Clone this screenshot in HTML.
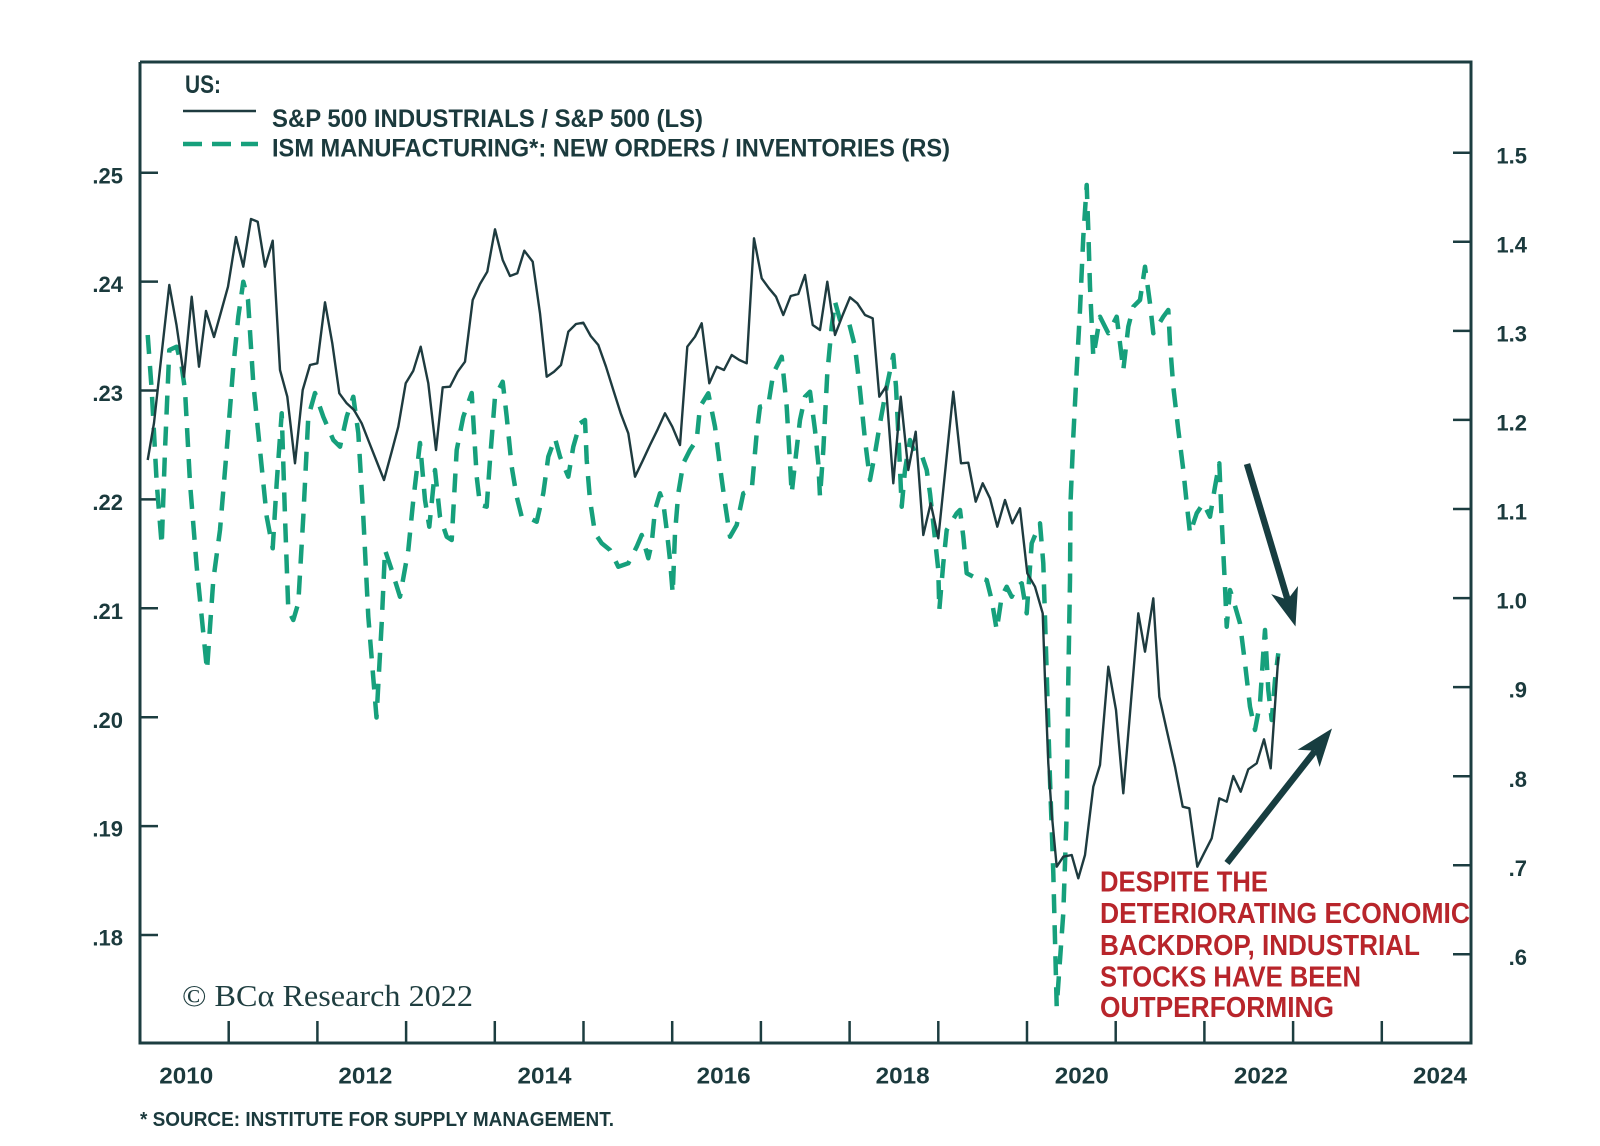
<!DOCTYPE html>
<html>
<head>
<meta charset="utf-8">
<style>
  html,body{margin:0;padding:0;background:#ffffff;}
  svg{display:block;}
  .ax{font-family:"Liberation Sans",sans-serif;font-weight:700;fill:#1b3a3d;}
</style>
</head>
<body>
<svg width="1600" height="1146" viewBox="0 0 1600 1146" xmlns="http://www.w3.org/2000/svg">
  <rect x="0" y="0" width="1600" height="1146" fill="#ffffff"/>

  <!-- frame -->
  <g stroke="#1c3d40" stroke-width="3" fill="none">
    <polyline points="140,62 1471,62 1471,1043 140,1043 140,62"/>
  </g>

  <!-- left ticks -->
  <g stroke="#1c3d40" stroke-width="2.5">
    <line x1="140" y1="172.7" x2="158" y2="172.7"/>
    <line x1="140" y1="281.6" x2="158" y2="281.6"/>
    <line x1="140" y1="390.5" x2="158" y2="390.5"/>
    <line x1="140" y1="499.4" x2="158" y2="499.4"/>
    <line x1="140" y1="608.3" x2="158" y2="608.3"/>
    <line x1="140" y1="717.2" x2="158" y2="717.2"/>
    <line x1="140" y1="826.1" x2="158" y2="826.1"/>
    <line x1="140" y1="935" x2="158" y2="935"/>
  </g>
  <!-- right ticks -->
  <g stroke="#1c3d40" stroke-width="2.5">
    <line x1="1453" y1="152.7" x2="1471" y2="152.7"/>
    <line x1="1453" y1="241.8" x2="1471" y2="241.8"/>
    <line x1="1453" y1="330.9" x2="1471" y2="330.9"/>
    <line x1="1453" y1="419.9" x2="1471" y2="419.9"/>
    <line x1="1453" y1="509" x2="1471" y2="509"/>
    <line x1="1453" y1="598.1" x2="1471" y2="598.1"/>
    <line x1="1453" y1="687.1" x2="1471" y2="687.1"/>
    <line x1="1453" y1="776.2" x2="1471" y2="776.2"/>
    <line x1="1453" y1="865.3" x2="1471" y2="865.3"/>
    <line x1="1453" y1="954.3" x2="1471" y2="954.3"/>
  </g>
  <!-- bottom ticks -->
  <g stroke="#1c3d40" stroke-width="2.5">
    <line x1="228.7" y1="1043" x2="228.7" y2="1021"/>
    <line x1="317.4" y1="1043" x2="317.4" y2="1021"/>
    <line x1="406.1" y1="1043" x2="406.1" y2="1021"/>
    <line x1="494.8" y1="1043" x2="494.8" y2="1021"/>
    <line x1="583.5" y1="1043" x2="583.5" y2="1021"/>
    <line x1="672.2" y1="1043" x2="672.2" y2="1021"/>
    <line x1="760.9" y1="1043" x2="760.9" y2="1021"/>
    <line x1="849.6" y1="1043" x2="849.6" y2="1021"/>
    <line x1="938.3" y1="1043" x2="938.3" y2="1021"/>
    <line x1="1027" y1="1043" x2="1027" y2="1021"/>
    <line x1="1115.7" y1="1043" x2="1115.7" y2="1021"/>
    <line x1="1204.4" y1="1043" x2="1204.4" y2="1021"/>
    <line x1="1293.1" y1="1043" x2="1293.1" y2="1021"/>
    <line x1="1381.8" y1="1043" x2="1381.8" y2="1021"/>
  </g>

  <!-- left labels -->
  <g class="ax" font-size="22" text-anchor="end">
    <text x="123" y="183.3">.25</text>
    <text x="123" y="292.2">.24</text>
    <text x="123" y="401.1">.23</text>
    <text x="123" y="510">.22</text>
    <text x="123" y="618.9">.21</text>
    <text x="123" y="727.8">.20</text>
    <text x="123" y="836.7">.19</text>
    <text x="123" y="945.6">.18</text>
  </g>
  <!-- right labels -->
  <g class="ax" font-size="22" text-anchor="end">
    <text x="1527" y="163.3">1.5</text>
    <text x="1527" y="252.4">1.4</text>
    <text x="1527" y="341.5">1.3</text>
    <text x="1527" y="430.5">1.2</text>
    <text x="1527" y="519.6">1.1</text>
    <text x="1527" y="608.7">1.0</text>
    <text x="1527" y="697.7">.9</text>
    <text x="1527" y="786.8">.8</text>
    <text x="1527" y="875.9">.7</text>
    <text x="1527" y="964.9">.6</text>
  </g>
  <!-- year labels -->
  <g class="ax" font-size="23" text-anchor="middle">
    <text x="186.3" y="1083.5" textLength="54" lengthAdjust="spacingAndGlyphs">2010</text>
    <text x="365.4" y="1083.5" textLength="54" lengthAdjust="spacingAndGlyphs">2012</text>
    <text x="544.5" y="1083.5" textLength="54" lengthAdjust="spacingAndGlyphs">2014</text>
    <text x="723.6" y="1083.5" textLength="54" lengthAdjust="spacingAndGlyphs">2016</text>
    <text x="902.7" y="1083.5" textLength="54" lengthAdjust="spacingAndGlyphs">2018</text>
    <text x="1081.8" y="1083.5" textLength="54" lengthAdjust="spacingAndGlyphs">2020</text>
    <text x="1260.9" y="1083.5" textLength="54" lengthAdjust="spacingAndGlyphs">2022</text>
    <text x="1440" y="1083.5" textLength="54" lengthAdjust="spacingAndGlyphs">2024</text>
  </g>

  <!-- footnote -->
  <text class="ax" x="140" y="1126" font-size="20" textLength="474" lengthAdjust="spacingAndGlyphs">* SOURCE: INSTITUTE FOR SUPPLY MANAGEMENT.</text>

  <!-- legend -->
  <text class="ax" x="185" y="93" font-size="25" textLength="36" lengthAdjust="spacingAndGlyphs">US:</text>
  <line x1="183" y1="111" x2="256" y2="111" stroke="#1e3b3f" stroke-width="2.5"/>
  <text class="ax" x="272" y="127" font-size="25" textLength="431" lengthAdjust="spacingAndGlyphs">S&amp;P 500 INDUSTRIALS / S&amp;P 500 (LS)</text>
  <line x1="183" y1="144" x2="258" y2="144" stroke="#16a07c" stroke-width="4.5" stroke-dasharray="19 10"/>
  <text class="ax" x="272" y="156.5" font-size="25" textLength="678" lengthAdjust="spacingAndGlyphs">ISM MANUFACTURING*: NEW ORDERS / INVENTORIES (RS)</text>

  <!-- copyright -->
  <text x="182" y="1006" font-family="Liberation Serif, serif" font-size="31" fill="#1f3e40" textLength="291" lengthAdjust="spacingAndGlyphs">© BCα Research 2022</text>

  <!-- ISM dashed series -->
  <polyline fill="none" stroke="#16a07c" stroke-width="4.5" stroke-dasharray="19 12" stroke-linejoin="round"
    points="147.7,335 151.7,390 156.7,483 161.7,545 165,450 169.3,350 176.7,346.7 181.7,366.7 185,390 190,483 196.7,566.7 203,630 207,670 213.3,580 220,530 226.7,450 233.3,366.7 238.3,316.7 243.3,281.7 248,300 253.3,383.3 260,450 266.7,516.7 272.7,548.3 276.7,483 281.7,413.3 285,516.7 288.3,610 293.3,620 298.3,603 303.3,516.7 308.3,416.7 315,393 323.3,416.7 333.3,440 340,446.7 346.7,416.7 353.3,396.7 358.3,433 363.3,516.7 368.3,616.7 376.5,717.5 381.7,623 385,550 391.7,570 400,596.7 408.3,550 413.3,500 420,443 425,500 429.3,526.7 435,470 440,516.7 446.7,536.7 451.7,540 456.7,450 463.3,416.7 471.7,393 476.7,476.7 480,505 486.7,506.7 490,460 495,396.7 502.7,381.7 506.7,416.7 511.7,466.7 516.7,496.7 521.7,516.7 526.7,516.7 536.7,521.7 543.3,493.3 548.3,456.7 555,438.3 560,456.7 568.3,476.7 573.3,446.7 580,423.3 585,420 586.7,460 590,500 595,533.3 601.7,543.3 610,550 618.3,566.7 628.3,563.3 636.7,546.7 641.7,535 648.3,558.3 651.7,543.3 655,510 660,493.3 663.3,503 666.7,530 670,560 672.7,593.3 675,533.3 678.3,493.3 683.3,463.3 690,450 696.7,440 700,406.7 708.3,393.3 715,426.7 720,466.7 725,503.3 730,536.7 736.7,525 743.3,493.3 751.7,490 756.7,433.3 760,406.7 768.3,405 773.3,373.3 781.7,356.7 786.7,406.7 790,463.3 791.7,493.3 795,463.3 800,420 805,396.7 810,391.7 815,430 818.3,463.3 820,496.7 823.3,450 827.3,373.3 831.7,326.7 835,301.7 840,320 848.3,320 855,346.7 860,390 865,440 870,480 875,453.3 880,423.3 886.7,386.7 893.3,355 896,386.7 899.3,453.3 901.7,506.7 905,470 910,440 915,453.3 921.7,455 926.7,470 930,493.3 933.3,523.3 938.3,570 939.3,610 943.3,563.3 946.7,530 956.7,513.3 960,510 963.3,536.7 966.7,573.3 973.3,576.7 986.7,580 991.7,600 996.7,630 1001.7,596.7 1006.7,586.7 1011.7,596.7 1016.7,586.7 1021.7,583.3 1026.7,613.3 1031.7,543.3 1040,523.3 1043.3,563.3 1046,650 1050,780 1053.3,873 1056.7,1006.7 1060,960 1063.3,913 1066.7,813 1068.3,680 1070,580 1070.5,503 1073.3,436.7 1076.7,370 1080,310 1083.3,236.7 1086.7,185 1088.3,230 1090,286.7 1093.3,356.7 1096.7,336.7 1100,316.7 1108.3,333.3 1116.7,316.7 1123.3,370 1128.3,326.7 1133.3,306.7 1140,300 1145,266.7 1150,303.3 1153.3,333.3 1163.3,316.7 1168.3,310 1170,343.3 1173.3,386.7 1178.3,430 1183.3,470 1186.7,503.3 1190,533.3 1196.7,513.3 1203.3,503.3 1210,516.7 1215,486.7 1219.3,463.3 1221.7,520 1225,586.7 1226.7,626.7 1230,590 1233.3,600 1240,623.3 1245,663.3 1250,706.7 1255,730 1260,703.3 1263.3,653.3 1265,630 1268.3,690 1271.7,720 1275,680 1278.3,653.3"/>

  <!-- S&P solid series -->
  <polyline fill="none" stroke="#1e3b3f" stroke-width="2.4" stroke-linejoin="round"
    points="147.7,460 154,423 161.5,355 169.3,285 176.5,325 184,376.7 191.7,296.7 199,366.7 206,311 214,337 221,312 228,286.7 236,237 243.3,266.7 251,219 257.7,221.7 265,266.7 272.7,240.7 280,370 287.3,396.7 295,463.3 302.7,390 310,365 317.3,363.3 325,302.3 332.3,343.3 339.3,393.3 346.7,403.3 354,410 361.7,423.3 369,442 376.5,461 384,480 391.7,451.7 398.3,426.7 405.7,383.3 413.3,370.7 420.7,346.7 428.3,383.3 436,450 442.7,387.3 450,386.7 457.7,371.7 465,361.7 472.7,300 480,284 487.3,271.7 495,229.3 502.7,260 510,276 517.3,273.3 524.3,250.7 532.7,261.7 540,313.3 546.7,376.7 554,371.7 561,365 568.3,331.7 576,324 583.3,322.7 590.7,336 598.3,345 606,366.7 613.3,390 620.7,413.3 628.3,433.3 635,476.7 642.7,460.7 650,445 657.7,429.3 665,413.3 672.3,426.7 680,445 687.3,346.7 695,336.7 701.7,323.3 709.3,383.3 716.7,366.7 724,370 731.7,355 739.3,360 746.7,363.3 754,238.3 761.7,278.3 769,288.3 776,296.7 783.3,315 790.7,296 798.3,294 805,275 812.7,325 820,330 827.3,281.7 835,335 842.7,315 850,297.3 857.3,303.3 865,315 872.7,318.3 879.3,396.7 886,386.7 893.3,483.3 900.7,396.7 908.3,470 915.7,431.7 923.3,535 930.7,503.3 938.3,538.3 946,463.3 953.3,391.7 961,463.3 968.3,462.7 975.7,501.7 982.7,483.3 990,498.3 997.3,526.7 1005,500 1012.3,523.3 1020,508.3 1027.3,573.3 1035,586.7 1042.7,613.3 1045,680 1048.3,763.3 1051.7,813.3 1056.7,866.7 1063.3,856.7 1071.7,855 1078.3,878.3 1085,855 1093.3,786.7 1100,765 1108.3,666.7 1116,710 1123.3,793.3 1130,713.3 1138.3,613.3 1145,651.7 1153.3,598.3 1159.3,696.7 1166.7,730 1175,766.7 1182.7,806.7 1189.3,808.3 1197.3,866.7 1204,853.3 1211.7,838.3 1219.3,798.3 1226.7,801.7 1233.3,776 1240.7,791.7 1248.3,769.3 1256.7,763.3 1264,739.3 1270.7,768.3 1278.3,656.7"/>

  <!-- arrows -->
  <g fill="#173d40" stroke="none">
    <line x1="1247" y1="464" x2="1288" y2="601" stroke="#173d40" stroke-width="6.5"/>
    <polygon points="1295.5,626.5 1271.2,594.1 1287.5,599.7 1298,586"/>
    <line x1="1227" y1="863" x2="1315" y2="751" stroke="#173d40" stroke-width="6.5"/>
    <polygon points="1332,728.5 1297.6,749.8 1314.8,750.6 1319.6,767"/>
  </g>

  <!-- annotation -->
  <g font-family="Liberation Sans, sans-serif" font-weight="700" font-size="29" fill="#b8252b">
    <text x="1100" y="891.7" textLength="168" lengthAdjust="spacingAndGlyphs">DESPITE THE</text>
    <text x="1100" y="923" textLength="370" lengthAdjust="spacingAndGlyphs">DETERIORATING ECONOMIC</text>
    <text x="1100" y="955" textLength="320" lengthAdjust="spacingAndGlyphs">BACKDROP, INDUSTRIAL</text>
    <text x="1100" y="986.5" textLength="261" lengthAdjust="spacingAndGlyphs">STOCKS HAVE BEEN</text>
    <text x="1100" y="1017" textLength="234" lengthAdjust="spacingAndGlyphs">OUTPERFORMING</text>
  </g>
</svg>
</body>
</html>
